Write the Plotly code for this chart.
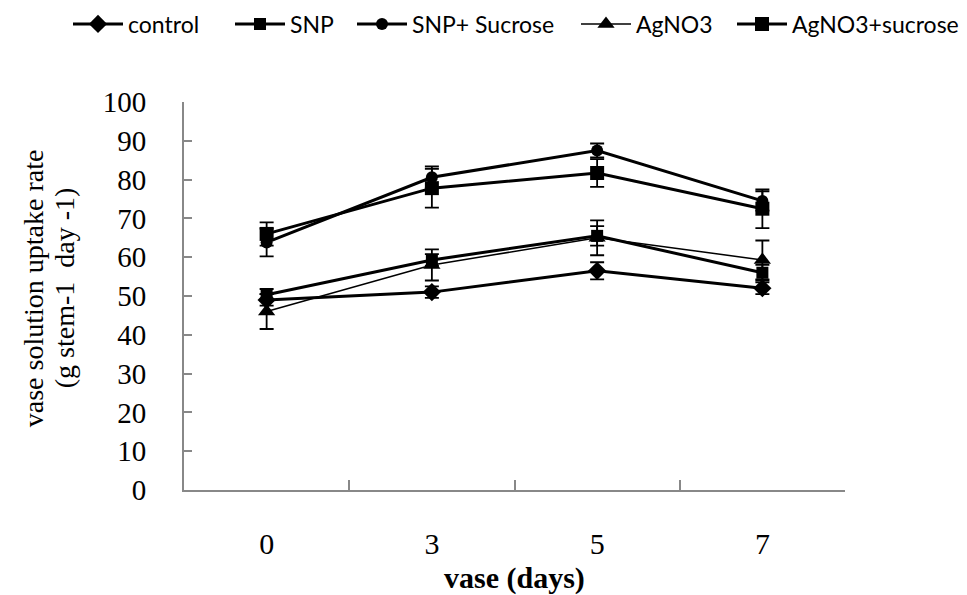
import plotly.graph_objects as go

days = ["0", "3", "5", "7"]

control = [49.0, 51.0, 56.5, 52.0]
control_err = [1.5, 1.5, 2.2, 1.5]

snp = [50.3, 59.3, 65.5, 56.0]
snp_err = [1.5, 1.5, 2.5, 2.0]

snp_sucrose = [63.8, 80.6, 87.5, 74.5]
snp_sucrose_err = [3.6, 2.8, 1.8, 2.5]

agno3 = [46.0, 58.0, 65.0, 59.3]
agno3_err = [4.5, 4.0, 4.5, 5.0]

agno3_sucrose = [66.0, 77.8, 81.7, 72.5]
agno3_sucrose_err = [3.0, 5.0, 3.6, 5.0]

series = [
    ("control", control, control_err, "diamond", 3, 14),
    ("SNP", snp, snp_err, "square", 3, 12),
    ("SNP+ Sucrose", snp_sucrose, snp_sucrose_err, "circle", 3, 12),
    ("AgNO3", agno3, agno3_err, "triangle-up", 1.5, 15),
    ("AgNO3+sucrose", agno3_sucrose, agno3_sucrose_err, "square", 3, 14),
]

# page x where each legend entry's text starts
legend_text_x = [128, 290, 412, 636, 792]

W, H = 959, 587  # page body has an 8px margin
fig = go.Figure()
legends = {}
for i, (name, vals, err, sym, lw, ms) in enumerate(series):
    key = "legend" if i == 0 else f"legend{i+1}"
    fig.add_trace(go.Scatter(
        x=days, y=vals, name=name, mode="lines+markers",
        line=dict(color="black", width=lw),
        marker=dict(symbol=sym, size=ms, color="black"),
        error_y=dict(type="data", array=err, visible=True, color="black",
                     thickness=1.8, width=7),
        legend=key,
    ))
    legends[key] = dict(
        xref="container", yref="container",
        x=(legend_text_x[i] - 8 - 60) / W, xanchor="left",
        y=1 - (24 - 8) / H, yanchor="middle",
        font=dict(family="Lato", size=23, color="black"),
        itemwidth=50, bgcolor="rgba(0,0,0,0)",
    )

serif = "Liberation Serif"
fig.update_layout(
    width=W, height=H,
    margin=dict(l=176, r=122, t=94, b=105, autoexpand=False),
    plot_bgcolor="white", paper_bgcolor="white",
    showlegend=True,
    xaxis=dict(
        type="category", range=[-0.5, 3.5], automargin=False,
        showline=True, linecolor="#888888", linewidth=2,
        ticks="inside", ticklen=10, tickwidth=2, tickcolor="#888888",
        tickson="boundaries", showgrid=False, zeroline=False,
        tickfont=dict(family=serif, size=30, color="black"),
        ticklabelstandoff=26,
    ),
    yaxis=dict(
        range=[0, 100], dtick=10, tick0=0, automargin=False,
        showline=True, linecolor="#888888", linewidth=2,
        ticks="inside", ticklen=8, tickwidth=2, tickcolor="#888888",
        showgrid=False, zeroline=False,
        tickfont=dict(family=serif, size=29, color="black"),
        ticklabelstandoff=30,
    ),
    annotations=[
        dict(text="vase solution uptake rate", textangle=-90,
             xref="paper", yref="paper", x=(25 - 176) / 661, y=0.52,
             xanchor="center", yanchor="middle", showarrow=False,
             font=dict(family=serif, size=28, color="black")),
        dict(text="(g stem-1  day -1)", textangle=-90,
             xref="paper", yref="paper", x=(56 - 176) / 661, y=0.52,
             xanchor="center", yanchor="middle", showarrow=False,
             font=dict(family=serif, size=28, color="black")),
        dict(text="<b>vase (days)</b>",
             xref="paper", yref="paper", x=0.5, y=(482 - 570) / 388,
             xanchor="center", yanchor="middle", showarrow=False,
             font=dict(family=serif, size=30, color="black")),
    ],
)
for k, v in legends.items():
    fig.update_layout({k: v})

fig.write_html("out.html")
